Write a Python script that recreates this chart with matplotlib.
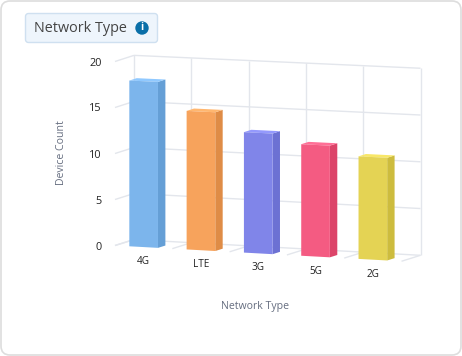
import matplotlib
matplotlib.use('Agg')
import matplotlib.pyplot as plt
from matplotlib.patches import Polygon, FancyBboxPatch, Circle
from matplotlib.transforms import Affine2D

plt.rcParams['font.family'] = ['Open Sans', 'DejaVu Sans']

# Data
categories = ['4G', 'LTE', '3G', '5G', '2G']
device_counts = [18, 15, 13, 12, 11]
y_ticks = [0, 5, 10, 15, 20]
bar_colors = ['#7cb5ec', '#f7a35c', '#8085e9', '#f45b82', '#e4d354']
side_colors = ['#659fd6', '#df8c46', '#6c71d3', '#dc4469', '#cdbc3e']
top_colors = ['#90c9ff', '#ffb770', '#9499fd', '#ff6f96', '#f8e768']

GRID = '#e3e6ec'
W, H = 462, 356
CAT_PX = 57.3
VAL_PX = 9.2
BAR_DEPTH = 0.39


def proj(x, v, d=0.0):
    """category, value, depth -> front plane data coords, sheared for the 3d look"""
    px = (x + 0.5) * CAT_PX + 19 * d
    slope = 0.055 - 0.0005 * v
    return x + d * 19 / CAT_PX, v - (px * slope - 7 * d) / VAL_PX


fig = plt.figure(figsize=(W / 100, H / 100), dpi=100)
px_tr = Affine2D().scale(1 / W, -1 / H).translate(0, 1) + fig.transFigure

# Card and title box
fig.patches.append(FancyBboxPatch((1, 1), W - 2, H - 2, boxstyle='round,pad=0,rounding_size=9',
                                  fc='white', ec='#dddddd', lw=1.2, transform=px_tr, zorder=-2))
fig.patches.append(FancyBboxPatch((25.5, 13.5), 132, 29, boxstyle='round,pad=0,rounding_size=3',
                                  fc='#eef5fc', ec='#cfe0f0', lw=1, transform=px_tr, zorder=-1))
fig.patches.append(Circle((142, 28), 6.7, fc='#0a6fa8', ec='none', transform=px_tr, zorder=-1))
fig.text(34, 28.5, 'Network Type', transform=px_tr, fontsize=10.4, color='#444444', va='center')
fig.text(142, 28, 'i', transform=px_tr, fontsize=7.5, fontweight='bold', color='white',
         ha='center', va='center')

# Axes: front plane of the chart
ax = fig.add_axes([115 / W, 1 - 245.5 / H, CAT_PX * 5 / W, VAL_PX * 20 / H])
ax.set_xlim(-0.5, 4.5)
ax.set_ylim(0, 20)
ax.patch.set_alpha(0)
for s in ax.spines.values():
    s.set_visible(False)
ax.set_xticks([])
ax.set_yticks(y_ticks)
ax.tick_params(axis='y', length=0, pad=9.5, labelsize=7.8, labelcolor='#222222')
for lab in ax.get_yticklabels():
    lab.set_va('center_baseline')


def line(p, q, lw=1.0):
    ax.plot([p[0], q[0]], [p[1], q[1]], color=GRID, lw=lw, clip_on=False, zorder=1,
            solid_capstyle='butt')


# Back wall, floor ticks
for v in y_ticks:
    line(proj(-0.5, v, 0), proj(-0.5, v, 1))
    line(proj(-0.5, v, 1), proj(4.5, v, 1))
for i in range(6):
    line(proj(i - 0.5, 0, 1), proj(i - 0.5, 20, 1))
    line(proj(i - 0.5, 0, 0), proj(i - 0.5, 0, 1))

# Bars
for i, val in enumerate(device_counts):
    l, r = i - 0.25, i + 0.25
    front = [proj(l, 0), proj(r, 0), proj(r, val), proj(l, val)]
    side = [proj(r, 0), proj(r, 0, BAR_DEPTH), proj(r, val, BAR_DEPTH), proj(r, val)]
    top = [proj(l, val), proj(r, val), proj(r, val, BAR_DEPTH), proj(l, val, BAR_DEPTH)]
    ax.add_patch(Polygon(side, fc=side_colors[i], ec='none', clip_on=False, zorder=3))
    ax.add_patch(Polygon(top, fc=top_colors[i], ec='none', clip_on=False, zorder=3))
    ax.add_patch(Polygon(front, fc=bar_colors[i], ec='none', clip_on=False, zorder=4))
    lx, ly = proj(i, 0)
    ax.annotate(categories[i], (lx, ly), xytext=(0, -10.5), textcoords='offset points',
                ha='center', va='center', fontsize=7.2, color='#222222', annotation_clip=False)

# Axis titles
fig.text(61, 152.5, 'Device Count', transform=px_tr, fontsize=7.6, color='#666e80', rotation=90,
         ha='center', va='center')
fig.text(255, 306, 'Network Type', transform=px_tr, fontsize=7.6, color='#666e80',
         ha='center', va='center')

fig.savefig('out.png', dpi=100, facecolor='white')
